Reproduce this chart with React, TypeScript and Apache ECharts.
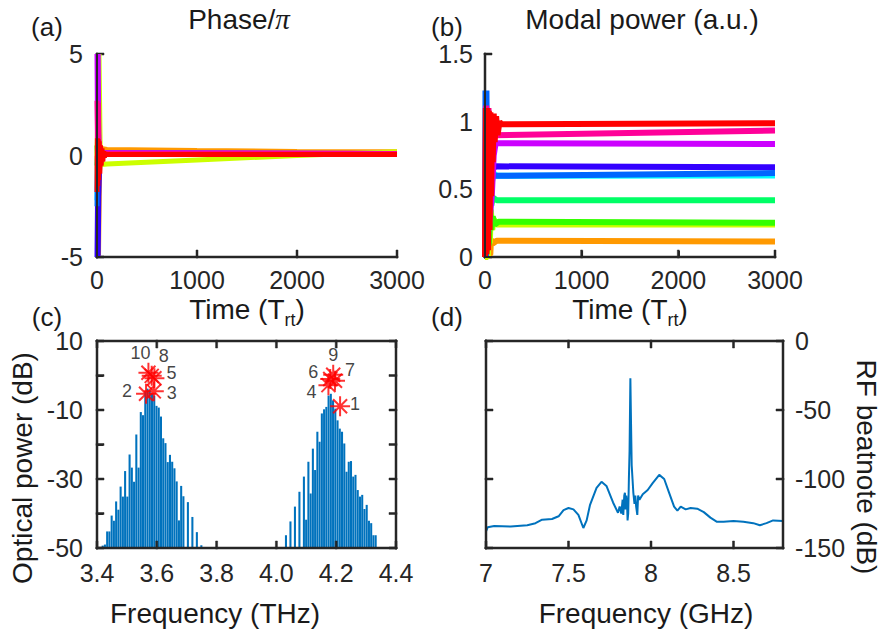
import React, { useEffect, useRef } from "react";
import * as echarts from "echarts";

const FONT = "'Liberation Sans', Arial, Helvetica, sans-serif";
const AX = "#262626";
const BAR = "#0072BD";

// ---------- (a) Phase/pi versus time, [T_rt, phase/pi] ----------
const phaseOrange = [[0, 0], [15, -5], [22, -5], [28, 0.3], [40, 0.35], [100, 0.3], [1000, 0.25], [2000, 0.2], [3000, 0.18]];
const phaseYellow = [[0, 0], [20, 5], [27, 5], [33, -0.3], [50, -0.45], [100, -0.42], [1000, -0.22], [2000, 0], [3000, 0.18]];
const phaseGreen = [[0, 0.5], [10, -0.5], [20, 0.1], [100, 0.08], [3000, 0.08]];
const phaseSpring = [[0, -0.5], [10, 0.6], [20, 0.1], [3000, 0.08]];
const phaseCyan = [[0, -2.2], [8, 1.1], [15, -1], [25, 0.1], [3000, 0.1]];
const phaseBlue = [[0, -5], [6, -1.8], [12, -5], [18, -2], [30, 0.1], [100, 0.12], [3000, 0.1]];
const phaseAzure = [[0, -2.5], [8, 1], [16, 0.1], [3000, 0.1]];
const phasePurple = [[0, 5], [6, 0.8], [12, 5], [18, 1], [25, 0.15], [3000, 0.1]];
const phasePink = [[0, 2.7], [6, 0.1], [12, 2.6], [20, 0.1], [3000, 0.1]];
const phaseRed = [[0, -1.8], [4, 0.85], [8, -1.5], [12, 0.8], [16, -1.2], [22, 0.7], [28, -0.9], [35, 0.5], [42, -0.5], [50, 0.35], [58, -0.3], [66, 0.2], [74, -0.1], [82, 0.08], [100, 0.05], [3000, 0.05]];

// ---------- (b) Modal power versus time, [T_rt, a.u.] ----------
const powerOrange = [[0, 0], [55, 0.02], [62, 0.13], [80, 0.1], [120, 0.12], [3000, 0.115]];
const powerYellow = [[0, 0], [30, 0], [40, 0.3], [50, 0.1], [60, 0.35], [75, 0.2], [90, 0.28], [120, 0.24], [3000, 0.24]];
const powerGreen = [[0, 0], [40, 0.1], [55, 0.35], [65, 0.2], [80, 0.3], [100, 0.24], [140, 0.26], [3000, 0.253]];
const powerSpring = [[0, 0], [40, 0.2], [55, 0.47], [65, 0.38], [80, 0.44], [120, 0.42], [3000, 0.42]];
const powerCyan = [[0, 0], [50, 0.3], [70, 0.55], [90, 0.62], [120, 0.6], [3000, 0.603]];
const powerBlue = [[0, 0], [40, 0.3], [60, 0.7], [80, 0.64], [100, 0.67], [3000, 0.663]];
const powerAzure = [[0, 0], [5, 1.23], [10, 0], [15, 1.23], [25, 0.3], [35, 1.0], [50, 0.5], [65, 0.65], [90, 0.6], [3000, 0.62]];
const powerPurple = [[0, 0], [15, 1.1], [30, 0.2], [50, 0.3], [70, 0.45], [90, 0.75], [110, 0.84], [3000, 0.835]];
const powerPink = [[0, 0], [12, 1.12], [24, 0.1], [36, 1.1], [50, 0.6], [60, 0.95], [80, 0.9], [3000, 0.935]];
const powerRed = [[0, 0], [8, 1.1], [16, 0.02], [24, 1.1], [32, 0.05], [40, 1.08], [48, 0.2], [56, 1.07], [64, 0.45], [72, 1.05], [80, 0.7], [90, 1.06], [100, 0.85], [115, 1.04], [130, 0.9], [150, 1.0], [170, 0.98], [3000, 0.988]];

const modeColors = ["#FF9900", "#CCFF00", "#33FF00", "#00FF66", "#00FFFF", "#3300FF", "#0066FF", "#CC00FF", "#FF0099", "#FF0000"];
const phaseModes = [phaseOrange, phaseYellow, phaseGreen, phaseSpring, phaseCyan, phaseBlue, phaseAzure, phasePurple, phasePink, phaseRed];
const powerModes = [powerOrange, powerYellow, powerGreen, powerSpring, powerCyan, powerBlue, powerAzure, powerPurple, powerPink, powerRed];

// ---------- (c) Optical spectrum ----------
const leftStart = 3.419;
const rightStart = 4.032;
const modeStep = 0.0075;
const leftDb = [-49.3, -49, -45.2, -45.2, -40.6, -42.1, -36.5, -38.9, -32.2, -35.1, -27.7, -35.1, -22.9, -26.7, -30.8, -17.1, -26.7, -10.6, -11.5, -4.8, -3.8, -4.3, -5.3, -5.8, -8.8, -9.3, -11.9, -18.2, -19.6, -25.1, -23, -25, -26.9, -30.7, -42, -32, -35, -50, -36.7, -50, -41, -50, -45.4, -50, -49.2];
const rightDb = [-46.3, -50, -42.3, -50, -38, -50, -33.7, -50, -29.3, -41.8, -25, -34.2, -21.2, -27.4, -16.3, -19.2, -11, -9.8, -9.1, -5.8, -5.3, -7.2, -9.6, -13, -15.4, -16.3, -19.7, -27.9, -25, -24.8, -29.3, -28.8, -33.2, -35.1, -34.6, -38.7, -37.5, -42.1, -42.8, -46.3, -46.3];
const starIds = ["1", "2", "3", "4", "5", "6", "7", "8", "9", "10"];
const starFreq = [4.213, 3.564, 3.59, 4.174, 3.592, 4.18, 4.196, 3.583, 4.19, 3.572];
const starDb = [-8.9, -5.3, -4.6, -2.8, -0.8, -1.0, -1.5, -0.1, 0.2, 0.8];
const starLabelOffsets = [[15, -2], [-19, -3], [18, 2], [-17, 7], [17, -5], [-17, -7], [15, -11], [12, -20], [0, -20], [-8, -20]];
const opticalTickLabels = [-50, -30, -10, 10];

// ---------- (d) RF beatnote ----------
const rfFreq = [7.0, 7.01, 7.05, 7.15, 7.25, 7.3, 7.34, 7.4, 7.44, 7.47, 7.5, 7.53, 7.56, 7.59, 7.61, 7.63, 7.67, 7.7, 7.73, 7.77, 7.8, 7.81, 7.82, 7.828, 7.832, 7.838, 7.842, 7.846, 7.85, 7.855, 7.858, 7.862, 7.866, 7.87, 7.875, 7.879, 7.883, 7.888, 7.893, 7.9, 7.905, 7.91, 7.917, 7.922, 7.93, 7.95, 7.98, 8.01, 8.05, 8.08, 8.11, 8.14, 8.16, 8.18, 8.21, 8.24, 8.28, 8.32, 8.36, 8.4, 8.44, 8.5, 8.56, 8.62, 8.66, 8.7, 8.74, 8.8];
const rfDb = [-138, -135, -134, -134.5, -133.5, -132, -129.5, -129, -127, -122.5, -121, -122, -126, -135.5, -130, -119, -106.5, -102, -105, -117, -124.5, -120, -125, -115, -126, -112, -110, -122, -112, -118, -130, -125, -100, -80, -27, -60, -90, -100, -110, -118, -112, -120, -126, -112, -115, -111, -108, -103, -97, -100, -110, -120, -123, -120, -122, -121, -121.5, -124, -128, -131, -131, -130.5, -131, -132, -133.5, -132, -130, -130.5];

// ---------- axis ticks ----------
const timeTicks = [0, 1000, 2000, 3000];
const phaseTicks = [-5, 0, 5];
const powerTicks = [0, 0.5, 1, 1.5];
const thzTicks = [3.4, 3.6, 3.8, 4.0, 4.2, 4.4];
const opticalTicks = [-50, -40, -30, -20, -10, 0, 10];
const ghzTicks = [7, 7.5, 8, 8.5];
const rfTicks = [-150, -100, -50, 0];

const lab = (margin: number, extra: any = {}) => ({ show: true, color: AX, fontSize: 25, fontFamily: FONT, margin, ...extra });
const plain = (v: number) => String(+v.toFixed(2));

const valueAxis = (gridIndex: number, position: string, min: number, max: number, interval: number, axisLabel: any, lineShown: boolean) => ({
  type: "value",
  gridIndex,
  position,
  min,
  max,
  interval,
  axisLine: { show: lineShown, lineStyle: { color: AX, width: 2 } },
  axisTick: { show: lineShown, inside: true, length: 6, lineStyle: { color: AX, width: 2 } },
  axisLabel,
  splitLine: { show: false },
});

const text = (x: number, y: number, t: string, size: number, extra: any = {}) => ({
  type: "text",
  x,
  y,
  silent: true,
  ...extra,
  style: { text: t, fontSize: size, fontFamily: FONT, fill: "#1a1a1a", align: "center", verticalAlign: "middle" },
});

const timeLabel = (x: number, y: number) => ({
  type: "text",
  x,
  y,
  silent: true,
  style: {
    text: "{m|Time (T}{s|rt}{m|)}",
    align: "center",
    verticalAlign: "middle",
    rich: {
      m: { fontSize: 28, fontFamily: FONT, fill: "#1a1a1a", lineHeight: 28, padding: [0, 0, 6, 0], verticalAlign: "bottom" },
      s: { fontSize: 18, fontFamily: FONT, fill: "#1a1a1a", lineHeight: 18, verticalAlign: "bottom" },
    },
  },
});

const LW = 2;
const TL = 6;
const hBar = (x1: number, x2: number, y: number) => ({
  type: "rect",
  shape: { x: Math.min(x1, x2) - LW / 2, y: y - LW / 2, width: Math.abs(x2 - x1) + LW, height: LW },
  style: { fill: "#262626", stroke: "#262626", lineWidth: 0.5 },
});
const vBar = (x: number, y1: number, y2: number) => ({
  type: "rect",
  shape: { x: x - LW / 2, y: Math.min(y1, y2) - LW / 2, width: LW, height: Math.abs(y2 - y1) + LW },
  style: { fill: "#262626", stroke: "#262626", lineWidth: 0.5 },
});

// frame + inward ticks of one panel, drawn as a custom series through the panel's axes
const frameSeries = (i: number, xs: number[], ys: number[], xMin: number, xMax: number, yMin: number, yMax: number, box: boolean, z: number) => ({
  type: "custom",
  name: "frame" + i,
  xAxisIndex: i,
  yAxisIndex: i,
  clip: false,
  z,
  data: [[xMin, yMin]],
  encode: { x: 0, y: 1 },
  renderItem: (params: any, api: any) => {
    const bl = api.coord([xMin, yMin]);
    const tr = api.coord([xMax, yMax]);
    const children: any[] = [];
    children.push(hBar(bl[0], tr[0], bl[1]));
    children.push(vBar(bl[0], bl[1], tr[1]));
    if (box) {
      children.push(hBar(bl[0], tr[0], tr[1]));
      children.push(vBar(tr[0], bl[1], tr[1]));
    }
    xs.forEach((x) => {
      const p = api.coord([x, yMin]);
      children.push(vBar(p[0], bl[1], bl[1] - TL));
      if (box) children.push(vBar(p[0], tr[1], tr[1] + TL));
    });
    ys.forEach((y) => {
      const p = api.coord([xMin, y]);
      children.push(hBar(bl[0], bl[0] + TL, p[1]));
      if (box) children.push(hBar(tr[0], tr[0] - TL, p[1]));
    });
    return { type: "group", children };
  },
});

// edge lines as mark lines on a panel's series
const edgeMarks = (xEdges: number[], yEdges: number[]) => ({
  silent: true,
  symbol: ["none", "none"],
  label: { show: false },
  lineStyle: { color: AX, width: 2, type: "solid", opacity: 1 },
  emphasis: { disabled: true },
  data: [...xEdges.map((x) => ({ xAxis: x })), ...yEdges.map((y) => ({ yAxis: y }))],
});

export default function App() {
  const ref = useRef<HTMLDivElement>(null);
  useEffect(() => {
    document.body.style.margin = "0";
    if (!ref.current) return;
    const chart = echarts.init(ref.current, null, { renderer: "svg" });

    const barData: number[][] = [];
    leftDb.forEach((v, i) => barData.push([leftStart + i * modeStep, v]));
    rightDb.forEach((v, i) => barData.push([rightStart + i * modeStep, v]));

    const series: any[] = [];
    series.push(frameSeries(0, timeTicks, phaseTicks, 0, 3000, -5, 5, false, 1));
    series.push(frameSeries(1, timeTicks, powerTicks, 0, 3000, 0, 1.5, false, 1));
    phaseModes.forEach((d, i) =>
      series.push({
        type: "line",
        xAxisIndex: 0,
        yAxisIndex: 0,
        data: d,
        showSymbol: false,
        clip: false,
        lineStyle: { color: modeColors[i], width: 5 },
        z: 2 + i * 0.01,
        markLine: i === 0 ? edgeMarks([0], [-5]) : undefined,
      })
    );
    powerModes.forEach((d, i) =>
      series.push({
        type: "line",
        xAxisIndex: 1,
        yAxisIndex: 1,
        data: d,
        showSymbol: false,
        clip: false,
        lineStyle: { color: modeColors[i], width: 6 },
        z: 2 + i * 0.01,
        markLine: i === 0 ? edgeMarks([0], [0]) : undefined,
      })
    );
    series.push({
      type: "custom",
      xAxisIndex: 2,
      yAxisIndex: 2,
      data: barData,
      encode: { x: 0, y: 1 },
      renderItem: (params: any, api: any) => {
        const f = api.value(0);
        const v = api.value(1);
        const top = api.coord([f, v]);
        const base = api.coord([f, -50]);
        const w = api.size([modeStep, 0])[0] * 0.92;
        return {
          type: "rect",
          shape: { x: top[0] - w / 2, y: top[1], width: w, height: Math.max(0, base[1] - top[1]) },
          style: { fill: BAR },
        };
      },
    });
    series.push(frameSeries(2, thzTicks, opticalTicks, 3.4, 4.4, -50, 10, true, 4));
    series.push({
      type: "scatter",
      xAxisIndex: 2,
      yAxisIndex: 2,
      symbol: "path://M10,0 L10,20 M0,10 L20,10 M3,3 L17,17 M3,17 L17,3",
      symbolSize: 20,
      itemStyle: { color: "none", borderColor: "#FF0000", borderWidth: 2 },
      z: 5,
      label: {
        show: true,
        position: "inside",
        formatter: "{b}",
        fontSize: 18,
        lineHeight: 18,
        fontFamily: FONT,
        color: "#111",
      },
      data: starIds.map((id, i) => ({
        name: id,
        value: [starFreq[i], starDb[i]],
        label: { offset: starLabelOffsets[i] },
      })),
      markLine: edgeMarks([3.4, 4.4], [-50, 10]),
    });
    series.push({
      type: "line",
      xAxisIndex: 3,
      yAxisIndex: 3,
      data: rfFreq.map((f, i) => [f, rfDb[i]]),
      showSymbol: false,
      lineStyle: { color: BAR, width: 2 },
      markLine: edgeMarks([7, 8.8], [-150, 0]),
    });
    series.push(frameSeries(3, ghzTicks, rfTicks, 7, 8.8, -150, 0, true, 4));

    const option: any = {
      animation: false,
      textStyle: { fontFamily: FONT },
      grid: [
        { left: 97, top: 54, width: 300, height: 203 },
        { left: 485, top: 54, width: 290, height: 203 },
        { left: 97, top: 341, width: 299, height: 207 },
        { left: 486, top: 341, width: 297, height: 207 },
      ],
      xAxis: [
        valueAxis(0, "bottom", 0, 3000, 1000, lab(10, { formatter: plain }), false),
        valueAxis(1, "bottom", 0, 3000, 1000, lab(10, { formatter: plain }), true),
        valueAxis(2, "bottom", 3.4, 4.4, 0.2, lab(12, { formatter: (v: number) => v.toFixed(1) }), false),
        valueAxis(3, "bottom", 7, 8.8, 0.5, lab(12, { showMaxLabel: false, formatter: (v: number) => (v > 8.7 ? "" : plain(v)) }), false),
      ],
      yAxis: [
        valueAxis(0, "left", -5, 5, 5, lab(14, { formatter: plain }), true),
        valueAxis(1, "left", 0, 1.5, 0.5, lab(12, { formatter: plain }), true),
        valueAxis(2, "left", -50, 10, 10, lab(14, { formatter: (v: number) => (opticalTickLabels.includes(Math.round(v)) ? String(Math.round(v)) : "") }), true),
        valueAxis(3, "right", -150, 0, 50, lab(12, { formatter: plain }), true),
      ],
      series,
      graphic: [
        text(47, 27, "(a)", 26),
        {
          type: "text",
          x: 239,
          y: 19,
          silent: true,
          style: {
            text: "{m|Phase/}{p|π}",
            align: "center",
            verticalAlign: "middle",
            rich: {
              m: { fontSize: 28, fontFamily: FONT, fill: "#1a1a1a" },
              p: { fontSize: 29, fontFamily: "'Liberation Serif', 'DejaVu Serif', serif", fontStyle: "italic", fill: "#1a1a1a" },
            },
          },
        },
        text(447, 27, "(b)", 26),
        text(642, 19, "Modal power (a.u.)", 28),
        timeLabel(247, 315),
        timeLabel(630, 315),
        text(47, 317, "(c)", 26),
        text(447, 317, "(d)", 26),
        text(22, 468, "Optical power (dB)", 28, { rotation: Math.PI / 2 }),
        text(215, 613, "Frequency (THz)", 28),
        text(646, 613, "Frequency (GHz)", 28),
        text(866, 467, "RF beatnote (dB)", 28, { rotation: -Math.PI / 2 }),
      ],
    };
    chart.setOption(option);
    return () => chart.dispose();
  }, []);
  return <div ref={ref} style={{ width: 883, height: 633 }} />;
}
